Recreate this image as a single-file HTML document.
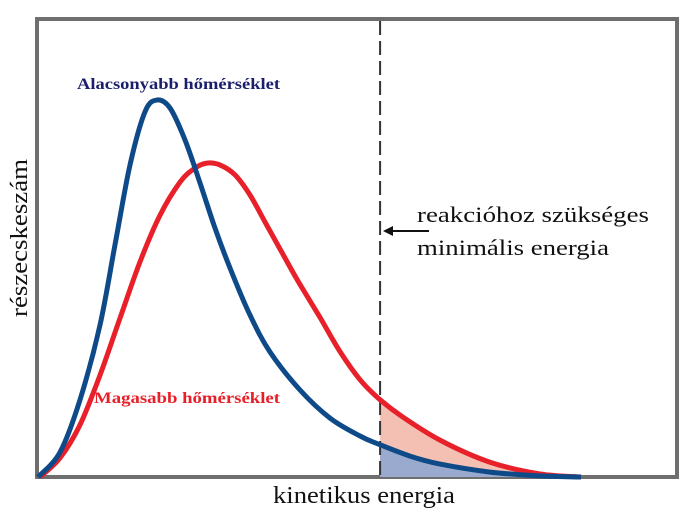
<!DOCTYPE html>
<html><head><meta charset="utf-8"><style>
html,body{margin:0;padding:0;background:#fff;}
svg{display:block;font-family:"Liberation Serif",serif;}
</style></head><body>
<svg width="682" height="520" viewBox="0 0 682 520">
<defs><clipPath id="thr"><rect id="thrRect" x="378" y="0" width="300" height="478"/></clipPath></defs>
<rect x="37" y="19" width="640" height="458" fill="#fff" stroke="#6e6e6e" stroke-width="4"/>
<g id="fills"></g>
<line id="thrLine" x1="378" y1="21" x2="378" y2="476" stroke="#333" stroke-width="2" stroke-dasharray="14,6"/>
<g id="curves"></g>
<text x="77" y="89" font-size="15.5" font-weight="bold" fill="#1b1f6b" textLength="203" lengthAdjust="spacingAndGlyphs">Alacsonyabb hőmérséklet</text>
<text x="94" y="403" font-size="15.5" font-weight="bold" fill="#e8202a" textLength="186" lengthAdjust="spacingAndGlyphs">Magasabb hőmérséklet</text>
<text x="417" y="222" font-size="22" fill="#111" textLength="232" lengthAdjust="spacingAndGlyphs">reakcióhoz szükséges</text>
<text x="417" y="255" font-size="22" fill="#111" textLength="192" lengthAdjust="spacingAndGlyphs">minimális energia</text>
<line x1="429" y1="231" x2="390" y2="231" stroke="#111" stroke-width="2"/>
<polygon points="383,231 393,226 393,236" fill="#111"/>
<text x="364" y="503" font-size="24" fill="#111" text-anchor="middle" textLength="182" lengthAdjust="spacingAndGlyphs">kinetikus energia</text>
<text transform="translate(27,238) rotate(-90)" font-size="24" fill="#111" text-anchor="middle" textLength="158" lengthAdjust="spacingAndGlyphs">részecskeszám</text>
</svg>
<script>
const lowEnergy=[0,4.05,7.73,11.42,14.18,16.94,19.71,21.92,24.31,27.07,29.83,32.6,35.36,39.04,42.73,48.25,53.78,59.3,62.62,68.51,74.03,83.24,92.45,100];
const lowCount=[0,6.5,20.3,40,61.1,82.1,96.1,99.2,97.1,88.7,77.4,65.5,55,42.6,32.9,22.9,15.5,10.8,8.7,5.5,3.4,1.3,0.3,0];
const highEnergy=[0.37,4.05,7.73,11.42,15.1,18.78,22.47,26.15,28.91,31.12,33.52,36.28,39.04,41.8,44.57,47.7,51.93,55.62,59.3,62.62,66.67,74.03,83.24,92.45,100];
const highCount=[0,5,13.7,26.8,41.8,56.6,68.9,77.6,81.3,82.6,82.1,79.5,74.2,67.1,60,52,42,33,25.6,20.8,16.3,9.7,3.9,0.8,0];
const thresholdEnergy=[63];

const X0=38,X1=581,Y0=477,Y1=97;
function xs(e){return X0+(X1-X0)*e/100;}
function ys(v){return Y0-(Y0-Y1)*v/100;}
function smooth(pts){
  let d='M'+pts[0][0]+','+pts[0][1];
  for(let i=0;i<pts.length-1;i++){
    const p0=pts[Math.max(0,i-1)],p1=pts[i],p2=pts[i+1],p3=pts[Math.min(pts.length-1,i+2)];
    const c1=[p1[0]+(p2[0]-p0[0])/6,p1[1]+(p2[1]-p0[1])/6];
    const c2=[p2[0]-(p3[0]-p1[0])/6,p2[1]-(p3[1]-p1[1])/6];
    d+=' C'+c1[0].toFixed(1)+','+c1[1].toFixed(1)+' '+c2[0].toFixed(1)+','+c2[1].toFixed(1)+' '+p2[0].toFixed(1)+','+p2[1].toFixed(1);
  }
  return d;
}
const NS='http://www.w3.org/2000/svg';
const tx=xs(thresholdEnergy[0]);
document.getElementById('thrRect').setAttribute('x',tx);
const tl=document.getElementById('thrLine');tl.setAttribute('x1',tx);tl.setAttribute('x2',tx);
const lowPts=lowEnergy.map((e,i)=>[xs(e),ys(lowCount[i])]);
const highPts=highEnergy.map((e,i)=>[xs(e),ys(highCount[i])]);
const fills=document.getElementById('fills'),curves=document.getElementById('curves');
const hf=document.createElementNS(NS,'path');
hf.setAttribute('d',smooth(highPts)+' L'+xs(100)+','+Y0+' L'+xs(0)+','+Y0+' Z');
hf.setAttribute('fill','#f4c0b3');hf.setAttribute('clip-path','url(#thr)');


fills.appendChild(hf);
const lf=document.createElementNS(NS,'path');
lf.setAttribute('d',smooth(lowPts)+' L'+xs(100)+','+Y0+' L'+xs(0)+','+Y0+' Z');
lf.setAttribute('fill','#9aaacf');lf.setAttribute('clip-path','url(#thr)');


fills.appendChild(lf);
const hc=document.createElementNS(NS,'path');
hc.setAttribute('d',smooth(highPts));hc.setAttribute('fill','none');hc.setAttribute('stroke','#e8202a');hc.setAttribute('stroke-width','5');


curves.appendChild(hc);
const lc=document.createElementNS(NS,'path');
lc.setAttribute('d',smooth(lowPts));lc.setAttribute('fill','none');lc.setAttribute('stroke','#0f4a88');lc.setAttribute('stroke-width','5');


curves.appendChild(lc);
</script>
</body></html>
